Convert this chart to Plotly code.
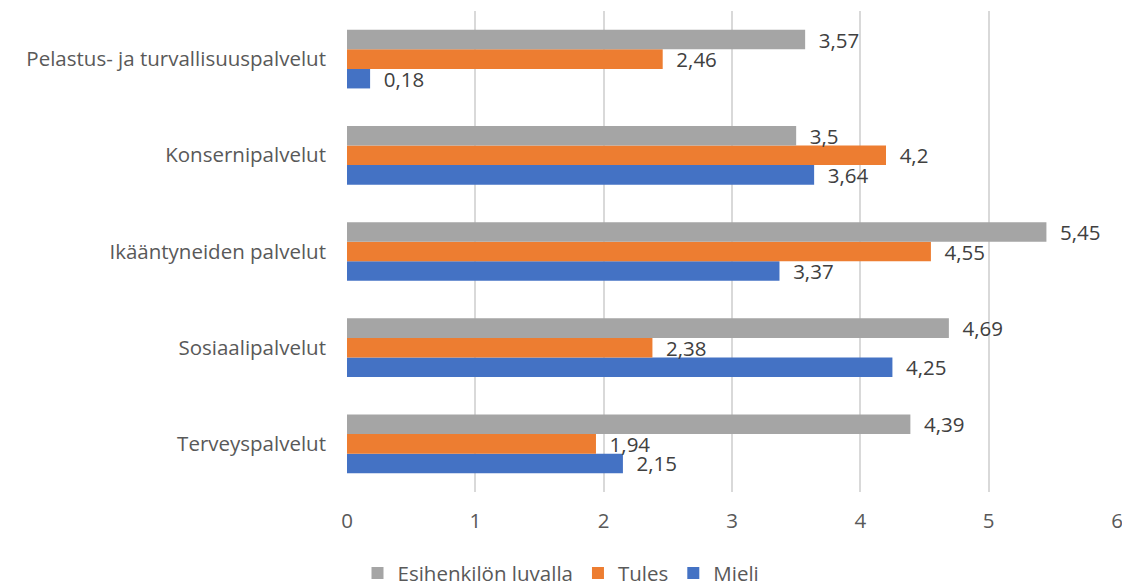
import plotly.graph_objects as go

categories = ["Terveyspalvelut", "Sosiaalipalvelut", "Ikääntyneiden palvelut",
              "Konsernipalvelut", "Pelastus- ja turvallisuuspalvelut"]
mieli = [2.15, 4.25, 3.37, 3.64, 0.18]
tules = [1.94, 2.38, 4.55, 4.2, 2.46]
esihenkilo = [4.39, 4.69, 5.45, 3.5, 3.57]
x_ticks = [0, 1, 2, 3, 4, 5, 6]

FONT = "'Open Sans', sans-serif"
SIZE = 20.5
TEXT_COLOR = "#404040"
AXIS_COLOR = "#595959"


def fi_num(v):
    return "  " + f"{v:g}".replace(".", ",")


series = [
    ("Mieli", mieli, "#4472c4"),
    ("Tules", tules, "#ed7d31"),
    ("Esihenkilön luvalla", esihenkilo, "#a5a5a5"),
]

fig = go.Figure()
for name, vals, color in series:
    fig.add_trace(go.Bar(
        y=categories, x=vals, name=name, orientation="h",
        marker=dict(color=color, line=dict(width=0)),
        text=[fi_num(v) for v in vals], textposition="outside",
        constraintext="none",
        textfont=dict(family=FONT, size=SIZE, color=TEXT_COLOR),
        cliponaxis=False,
    ))

fig.update_layout(
    width=1122, height=586,
    margin=dict(l=347, r=5, t=11, b=94),
    paper_bgcolor="white", plot_bgcolor="white",
    barmode="group", bargap=0.39, bargroupgap=0,
    font=dict(family=FONT, size=SIZE, color=TEXT_COLOR),
    xaxis=dict(range=[0, 6], tickvals=x_ticks, showgrid=True,
               gridcolor="#d9d9d9", gridwidth=1.5, zeroline=False,
               showline=False, ticks="", ticklabelstandoff=14,
               ticklabeloverflow="allow", automargin=False,
               tickfont=dict(size=SIZE, color=AXIS_COLOR)),
    yaxis=dict(categoryorder="array", categoryarray=categories,
               showgrid=False, zeroline=False, showline=False, ticks="",
               ticklabelstandoff=20, automargin=False,
               tickfont=dict(size=SIZE, color=AXIS_COLOR)),
    legend=dict(orientation="h", traceorder="reversed",
                xref="container", yref="container",
                x=0.5, xanchor="center", y=0.022, yanchor="middle",
                font=dict(size=SIZE, color=AXIS_COLOR),
                itemwidth=30, tracegroupgap=0),
    showlegend=True,
)

fig.write_html("out.html")
